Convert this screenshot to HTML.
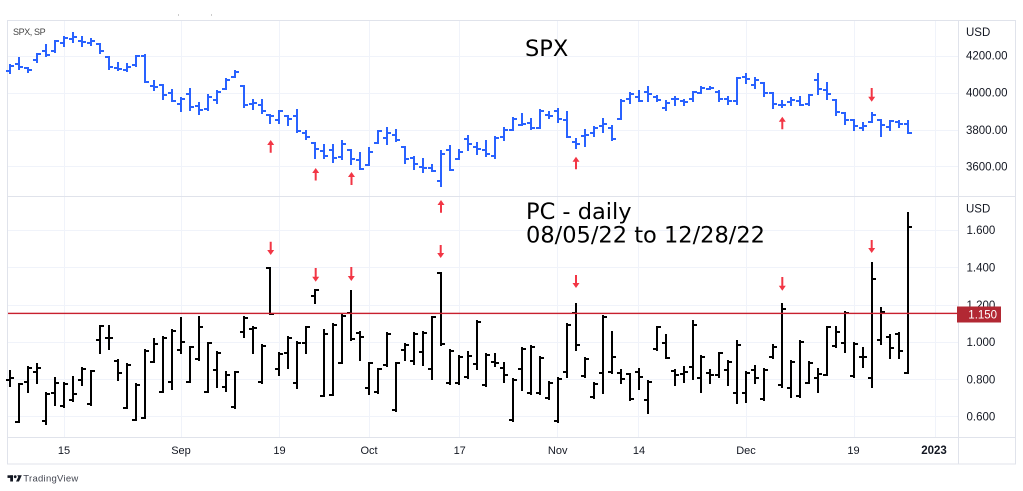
<!DOCTYPE html>
<html><head><meta charset="utf-8">
<style>
html,body{margin:0;padding:0;background:#fff;}
svg{display:block;}
.ax{font-family:"Liberation Sans",sans-serif;font-size:11.5px;fill:#131722;}
.tx{font-family:"Liberation Sans",sans-serif;font-size:11px;fill:#131722;}
.big{font-family:"DejaVu Sans","Liberation Sans",sans-serif;font-size:22.5px;fill:#000;}
</style></head><body>
<svg id="c" width="1023" height="491" viewBox="0 0 1023 491" xmlns="http://www.w3.org/2000/svg">
<rect width="1023" height="491" fill="#fff"/>
<g stroke="#f0f3fa" stroke-width="1" fill="none">
<path d="M64.5 20V437M181.5 20V437M279.5 20V437M369.5 20V437M459.5 20V437M557.5 20V437M638.5 20V437M746.5 20V437M854.5 20V437M935.5 20V437"/>
<path d="M8 56.5H958M8 93.5H958M8 130.5H958M8 166.5H958M8 230.5H958M8 267.5H958M8 305.5H958M8 342.5H958M8 379.5H958M8 416.5H958"/>
</g>
<g stroke="#e0e3eb" stroke-width="1" fill="none">
<rect x="7.5" y="20.5" width="1008" height="443.5"/>
<path d="M958.5 20V464M8 196.5H1015M8 437.5H1015"/>
</g>
<rect x="178" y="14.5" width="1" height="1" fill="#999"/>
<rect x="211" y="14.5" width="1" height="1" fill="#999"/>

<text x="13" y="35" font-family="Liberation Sans, sans-serif" font-size="9" fill="#444" letter-spacing="-0.4">SPX, SP</text>
<text class="big" x="525" y="56">SPX</text>
<text class="big" x="526" y="219">PC - daily</text>
<text class="big" x="526" y="242.5">08/05/22 to 12/28/22</text>

<g class="ax">
<text x="966" y="36">USD</text>
<text x="966" y="59.3">4200.00</text>
<text x="966" y="96.7">4000.00</text>
<text x="966" y="134">3800.00</text>
<text x="966" y="170.7">3600.00</text>
<text x="966" y="212.7">USD</text>
<text x="966.5" y="234">1.600</text>
<text x="966.5" y="271.3">1.400</text>
<text x="966.5" y="308.8">1.200</text>
<text x="966.5" y="346">1.000</text>
<text x="966.5" y="383.3">0.800</text>
<text x="966.5" y="420.7">0.600</text>
</g>

<g id="bars"></g>

<rect x="8" y="312.7" width="950" height="1.4" fill="#c8202e"/>
<rect x="957" y="306.5" width="44" height="16" fill="#b22833"/>
<text x="968.3" y="318.5" font-family="Liberation Sans, sans-serif" font-size="11.5" fill="#fff">1.150</text>

<g class="tx" text-anchor="middle">
<text x="64" y="454">15</text>
<text x="181" y="454">Sep</text>
<text x="279.5" y="454">19</text>
<text x="369" y="454">Oct</text>
<text x="459.7" y="454">17</text>
<text x="557.7" y="454">Nov</text>
<text x="639" y="454">14</text>
<text x="746" y="454">Dec</text>
<text x="853.5" y="454">19</text>
<text x="934" y="454" font-weight="bold" font-size="11.5">2023</text>
</g>

<g fill="#131722">
<rect x="7.5" y="475.3" width="5.5" height="2.6"/>
<rect x="10.2" y="475.3" width="2.8" height="6.2"/>
<circle cx="15.2" cy="476.7" r="1.4"/>
<polygon points="17.2,475.3 21.8,475.3 19,481.5 16,481.5 18.3,477"/>
</g>
<text x="23.3" y="481.5" font-family="Liberation Sans, sans-serif" font-size="9.5" fill="#434651" textLength="55">TradingView</text>
</svg>
<script>
(function(){
var spx=[
[4115.87,4151.58,4107.31,4145.19],[4155.93,4186.62,4128.97,4140.06],[4133.11,4137.30,4112.09,4122.47],[4176.79,4211.03,4169.90,4210.24],[4227.40,4257.91,4201.41,4207.27],
[4225.02,4280.47,4219.78,4280.15],[4269.37,4301.79,4256.90,4297.14],[4290.46,4325.28,4277.77,4305.20],[4280.40,4302.18,4253.08,4274.04],[4273.13,4292.53,4261.98,4283.74],
[4266.31,4266.31,4218.70,4228.48],[4195.08,4195.08,4129.86,4137.99],[4133.09,4159.77,4124.03,4128.73],[4126.55,4156.56,4119.97,4140.77],[4153.26,4200.54,4147.59,4199.12],
[4198.74,4203.04,4057.66,4057.66],[4034.58,4062.99,4017.42,4030.61],[4041.25,4044.98,3965.21,3986.16],[4000.67,4015.37,3954.53,3955.00],[3936.73,3970.23,3903.65,3966.85],
[3994.66,4018.43,3906.21,3924.26],[3930.89,3942.55,3886.75,3908.19],[3909.43,3987.89,3906.03,3979.87],[3959.94,4010.50,3944.81,4006.18],[4022.94,4076.81,4022.94,4067.36],
[4083.67,4119.28,4083.67,4110.41],[4037.12,4037.12,3921.00,3932.69],[3940.73,3961.94,3912.66,3946.01],[3932.41,3959.14,3888.28,3901.35],[3880.95,3880.95,3837.08,3873.33],
[3849.91,3900.45,3838.50,3899.89],[3875.23,3876.01,3827.54,3855.93],[3871.40,3907.07,3789.49,3789.93],[3782.36,3790.77,3749.45,3757.99],[3727.14,3727.14,3647.47,3693.23],
[3682.72,3715.67,3644.76,3655.04],[3686.44,3717.53,3623.29,3647.29],[3651.94,3736.74,3640.61,3719.04],[3687.01,3687.01,3610.40,3640.47],[3633.48,3671.44,3584.13,3585.62],
[3609.78,3698.35,3604.93,3678.43],[3726.46,3791.92,3726.46,3790.93],[3753.25,3806.91,3722.66,3783.28],[3771.97,3797.93,3739.22,3744.52],[3706.74,3706.74,3620.73,3639.66],
[3647.51,3652.17,3588.10,3612.39],[3595.86,3640.66,3568.45,3588.84],[3590.83,3608.34,3573.86,3577.03],[3520.37,3685.41,3491.58,3669.91],[3690.41,3712.00,3579.68,3583.07],
[3638.65,3689.73,3638.65,3677.95],[3746.26,3762.79,3686.53,3719.98],[3703.11,3728.58,3666.51,3695.16],[3689.05,3736.00,3656.44,3665.78],[3657.10,3757.89,3647.42,3752.75],
[3762.01,3810.74,3741.65,3797.34],[3799.44,3862.85,3799.44,3859.11],[3825.97,3886.15,3824.07,3830.60],[3834.69,3859.95,3803.79,3807.30],[3808.26,3905.42,3808.26,3901.06],
[3881.85,3893.73,3863.18,3871.98],[3901.79,3911.79,3843.80,3856.10],[3852.90,3894.44,3758.68,3759.69],[3733.25,3750.59,3698.15,3719.89],[3766.98,3796.34,3708.84,3770.55],
[3780.71,3813.95,3764.70,3806.80],[3817.02,3859.40,3786.28,3828.11],[3810.94,3818.20,3744.22,3748.57],[3859.89,3958.33,3859.89,3956.37],[3963.72,4001.48,3944.82,3992.93],
[3977.97,4008.97,3956.40,3957.25],[4006.41,4028.84,3953.17,3991.73],[3976.82,3983.96,3954.34,3958.79],[3919.26,3954.33,3906.54,3946.56],[3966.39,3979.89,3935.98,3965.34],
[3956.23,3962.00,3933.34,3949.94],[3965.51,4005.88,3956.88,4003.58],[4000.30,4033.78,3998.66,4027.26],[4023.34,4034.02,4020.76,4026.12],[4005.36,4012.27,3955.77,3963.94],
[3964.19,3976.77,3937.65,3957.63],[3957.18,4080.11,3938.58,4080.11],[4087.14,4100.51,4050.87,4076.57],[4040.17,4080.48,4026.63,4071.70],[4052.02,4052.45,3984.49,3998.84],
[3996.63,4001.51,3918.39,3941.26],[3933.28,3957.57,3922.68,3933.92],[3947.79,3974.19,3935.83,3963.51],[3954.17,3977.02,3933.04,3934.38],[3939.29,3990.71,3935.30,3990.56],
[4069.38,4100.96,3993.03,4019.65],[4015.54,4053.76,3965.65,3995.32],[3958.37,3958.37,3879.45,3895.75],[3890.91,3890.91,3827.91,3852.36],[3853.79,3854.86,3800.04,3817.66],
[3810.47,3838.24,3795.62,3821.62],[3839.49,3889.82,3839.49,3878.44],[3853.26,3853.26,3764.49,3822.39],[3815.11,3845.80,3797.01,3844.82],[3843.34,3846.65,3813.22,3829.25],
[3829.56,3848.32,3780.78,3783.22]];
var pc=[
[543,588,570,563],[582,695,695,582],[530,605,575,533],[522,580,545,535],[610,703,693,612],
[563,645,610,580],[580,650,648,582],[560,632,630,612],[535,585,570,538],[543,645,643,543],
[408,488,450,408],[408,478,445,445],[510,570,512,550],[522,655,655,525],[582,690,690,585],
[480,685,685,482],[447,515,515,462],[442,605,605,445],[420,598,575,422],[385,488,480,455],
[470,577,575,472],[382,510,508,410],[458,605,605,460],[487,592,540,490],[545,603,590,555],
[545,653,652,545],[380,440,425,385],[410,490,418,415],[465,578,575,467],[235,372,235,372],
[490,555,538,492],[440,535,490,445],[455,595,578,458],[410,490,460,412],[300,338,318,300],
[420,618,618,432],[403,615,615,405],[375,520,518,377],[303,450,368,448],[425,510,428,440],
[518,612,595,520],[537,608,605,538],[430,528,525,432],[518,662,660,520],[462,510,480,465],
[430,522,512,432],[427,525,487,430],[380,568,537,382],[250,465,250,463],[480,582,578,482],
[497,582,580,500],[485,563,560,497],[393,537,522,395],[493,588,585,495],[492,528,515,518],
[520,575,535,555],[568,692,690,570],[475,600,537,477],[468,612,610,470],[502,612,610,505],
[575,628,625,578],[565,695,693,567],[402,560,545,404],[342,480,368,465],[505,562,558,507],
[580,625,620,583],[378,610,550,380],[425,548,545,500],[540,580,548,568],[553,630,553,628],
[538,598,545,560],[572,668,630,575],[410,480,478,412],[435,505,460,503],[540,585,543,555],
[530,575,553,545],[393,568,530,405],[497,605,565,500],[540,578,550,555],[488,560,555,490],
[512,585,540,515],[452,640,610,465],[545,635,610,550],[527,580,540,565],[537,630,628,540],
[465,503,500,470],[342,590,585,358],[512,620,595,515],[452,620,618,455],[517,580,578,520],
[538,605,565,552],[410,555,555,412],[412,470,468,425],[367,485,460,370],[460,560,558,462],
[475,530,500,500],[218,590,565,267],[355,462,450,365],[435,503,440,475],[430,505,432,482],
[70,548,548,110]];
function X(i){return Math.round(10.1+8.979*i);}
function ys(p){return 56+(4200-p)*0.184;}
function yp(z){return 190+z/3;}
function r(v){return Math.round(v);}
function bar(x,h,l,o,c){
  h=r(h);l=r(l);o=r(o);c=r(c);
  if(l-h<2){l=h+2;}
  return "M"+x+" "+(h-1)+"V"+(l+1)+"M"+(x-4)+" "+o+"H"+x+"M"+x+" "+c+"H"+(x+4);
}
var d1="",d2="";
for(var i=0;i<spx.length;i++){var s=spx[i];d1+=bar(X(i),ys(s[1]),ys(s[2]),ys(s[0]),ys(s[3]));}
for(var j=0;j<pc.length;j++){var q=pc[j];d2+=bar(X(j),yp(q[0]),yp(q[1]),yp(q[2]),yp(q[3]));}
var NS="http://www.w3.org/2000/svg";
var g=document.getElementById("bars");
function P(d,col){var p=document.createElementNS(NS,"path");p.setAttribute("d",d);p.setAttribute("stroke",col);p.setAttribute("stroke-width","2");p.setAttribute("fill","none");g.appendChild(p);}
P(d1,"#2962ff");P(d2,"#000");
function arrow(x,y0,y1,up){
  var p=document.createElementNS(NS,"path");var d;
  if(up){d="M"+(x-3.5)+" "+(y0+5)+"L"+x+" "+y0+"L"+(x+3.5)+" "+(y0+5)+"H"+(x+1)+"V"+y1+"H"+(x-1)+"V"+(y0+5)+"Z";}
  else{d="M"+(x-3.5)+" "+(y1-5)+"L"+x+" "+y1+"L"+(x+3.5)+" "+(y1-5)+"H"+(x+1)+"V"+y0+"H"+(x-1)+"V"+(y1-5)+"Z";}
  p.setAttribute("d",d);p.setAttribute("fill","#f23645");g.appendChild(p);
}
var ups=[[270.7,140,152.7],[315.7,168,180.5],[351.5,172,185],[441,200,212.7],[576,156.7,169.3],[782.3,116.7,129.3]];
var downs=[[871.7,88,101.7],[270.7,241.7,255],[315.7,268,281.7],[351.3,267,281],[440.7,245,258],[576,275,288],[782.3,277,290.7],[871.7,240,253]];
ups.forEach(function(a){arrow(a[0],a[1],a[2],true);});
downs.forEach(function(a){arrow(a[0],a[1],a[2],false);});
})();
</script>
</body></html>
